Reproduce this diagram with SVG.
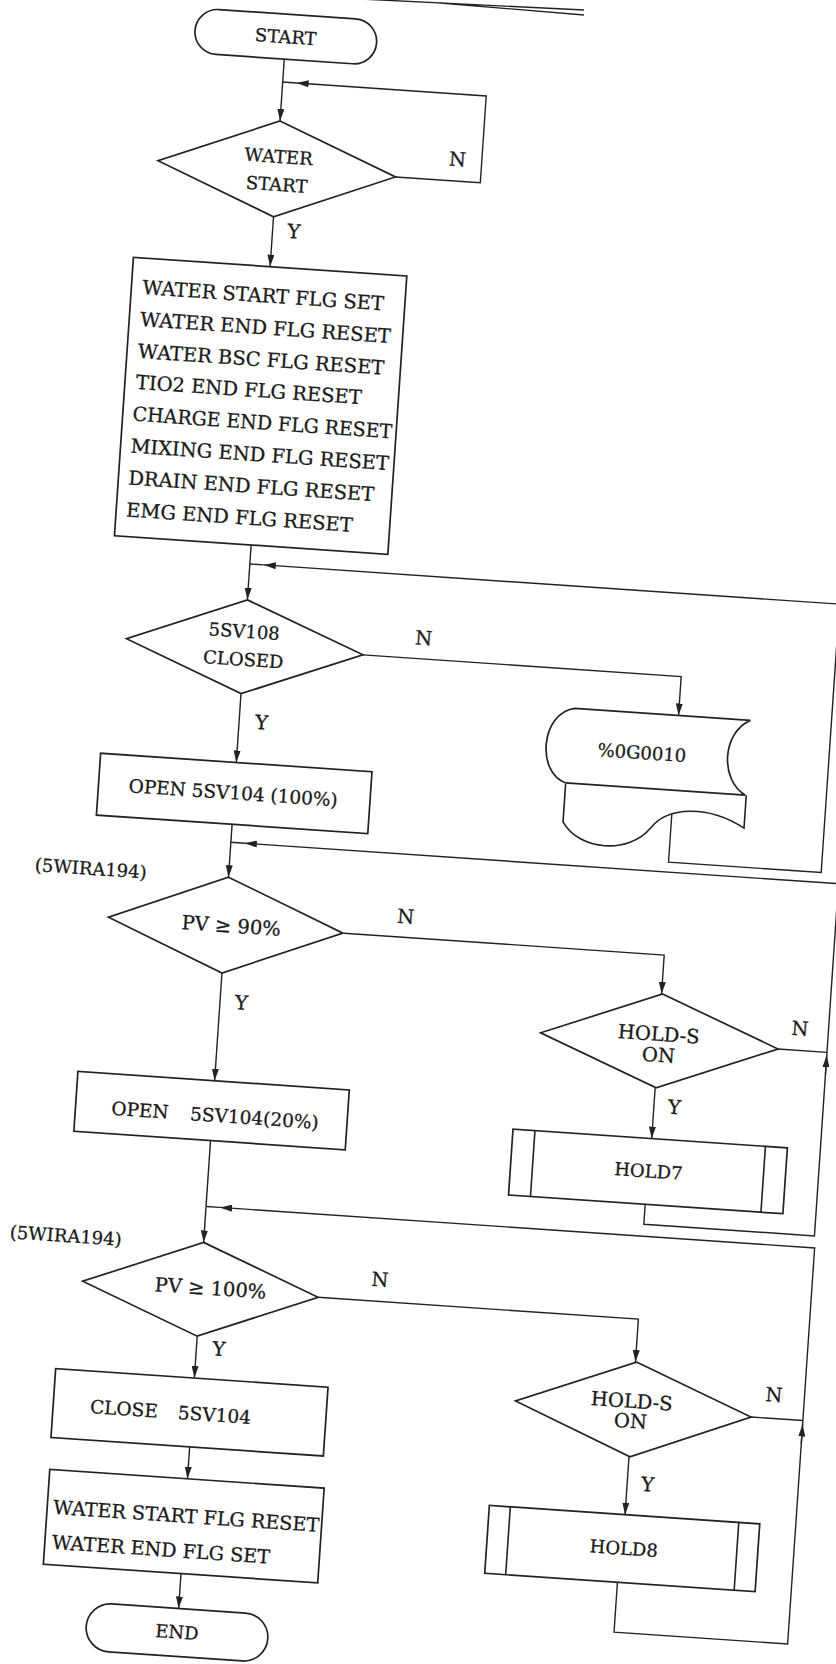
<svg xmlns="http://www.w3.org/2000/svg" width="836" height="1664" viewBox="0 0 836 1664">
<defs>
<marker id="ah" markerUnits="userSpaceOnUse" markerWidth="13" markerHeight="7" refX="12" refY="3.5" orient="auto">
<path d="M0,0 L12,3.5 L0,7 z" fill="#222"/>
</marker>
<style>
.s{fill:none;stroke:#222;stroke-width:1.6}
.n{fill:#fff;stroke:#222;stroke-width:1.7}
.c{fill:none;stroke:#222;stroke-width:1.4}
.a{fill:none;stroke:#222;stroke-width:1.4;marker-end:url(#ah)}
text{font-family:"DejaVu Serif","Liberation Serif",serif;font-size:19.5px;fill:#1a1a1a;stroke:#1a1a1a;stroke-width:0.3}
.m{text-anchor:middle}
.sm{font-size:18px}
.d{font-size:18px}
.b{font-size:18.5px}
</style>
</defs>
<rect width="836" height="1664" fill="#fff"/>
<g id="title-rule">
<path class="c" d="M360,-1 L584,10 M440,3 L584,15"/>
</g>
<g transform="rotate(3.9 418 832)">
<g id="connectors">
<path class="a" d="M232,70 V132"/>
<path class="a" d="M351,180 H436 V93 H246"/>
<path class="c" d="M246,93 H232"/>
<path class="a" d="M232,228 V278"/>
<path class="a" d="M232,557 V612"/>
<path class="a" d="M670,797 V845 H823 V576 H246"/>
<path class="c" d="M246,576 H232"/>
<path class="a" d="M351,659 H670 V698"/>
<path class="a" d="M232,706 V775"/>
<path class="a" d="M232,837 V890"/>
<path class="a" d="M670,1188 V1208 H841 V855 H246"/>
<path class="c" d="M246,855 H232"/>
<path class="a" d="M351,938 H672 V977"/>
<path class="c" d="M792,1024 H841"/>
<path class="a" d="M841,1046 V1027"/>
<path class="a" d="M672,1071 V1122"/>
<path class="a" d="M232,986 V1094"/>
<path class="a" d="M232,1154 V1256"/>
<path class="a" d="M668,1567 V1617 H842 V1220 H246"/>
<path class="c" d="M246,1220 H232"/>
<path class="a" d="M350,1303 H671 V1346"/>
<path class="c" d="M790,1393 H842"/>
<path class="a" d="M842,1416 V1397"/>
<path class="a" d="M671,1441 V1499"/>
<path class="a" d="M232,1350 V1392"/>
<path class="a" d="M232,1461 V1493"/>
<path class="a" d="M232,1588 V1623"/>
<text x="403" y="165">N</text>
<text x="247" y="248">Y</text>
<text x="402" y="645">N</text>
<text x="248" y="740">Y</text>
<text x="403" y="924">N</text>
<text x="247" y="1021">Y</text>
<text x="804" y="1009">N</text>
<text x="686" y="1096">Y</text>
<text x="402" y="1288">N</text>
<text x="248" y="1368">Y</text>
<text x="803" y="1376">N</text>
<text x="685" y="1474">Y</text>
</g>
<g id="start">
<rect class="n" x="141" y="25" width="182" height="45" rx="22.5"/>
<text class="m d" x="232" y="54">START</text>
</g>
<g id="water-start">
<polygon class="n" points="232,132 351,180 232,228 113,180"/>
<text class="m d" x="233" y="174">WATER</text>
<text class="m d" x="233" y="202">START</text>
</g>
<g id="init-flags">
<rect class="n" x="95" y="278" width="274" height="279"/>
<text x="106" y="314">WATER START FLG SET</text>
<text x="106" y="346">WATER END FLG RESET</text>
<text x="106" y="378">WATER BSC FLG RESET</text>
<text x="106" y="409">TIO2 END FLG RESET</text>
<text x="105" y="441" textLength="260" lengthAdjust="spacingAndGlyphs">CHARGE END FLG RESET</text>
<text x="105" y="473">MIXING END FLG RESET</text>
<text x="105" y="505">DRAIN END FLG RESET</text>
<text x="105" y="537">EMG END FLG RESET</text>
</g>
<g id="sv108-closed">
<polygon class="n" points="232,612 351,659 232,706 114,659"/>
<text class="m d" x="231" y="650">5SV108</text>
<text class="m d" x="232" y="678">CLOSED</text>
</g>
<g id="og0010">
<path class="n" d="M566,698 H742 C715,712 715,759 742,773 H562 C532,765 532,705 566,698 Z"/>
<path class="s" d="M562,774 V812 C580,840 630,840 650,812 C665,790 705,785 743,806 V773"/>
<text class="m d" x="636" y="744">%0G0010</text>
</g>
<g id="open-100">
<rect class="n" x="96" y="775" width="272" height="62"/>
<text class="m b" x="231" y="812">OPEN 5SV104 (100%)</text>
</g>
<g id="tag1">
<text class="sm" x="38" y="897">(5WIRA194)</text>
</g>
<g id="pv90">
<polygon class="n" points="232,890 350,938 232,986 115,938"/>
<text class="m" x="238" y="945">PV ≥ 90%</text>
</g>
<g id="hold-s-1">
<polygon class="n" points="673,977 792,1024 673,1071 554,1024"/>
<text class="m" x="672" y="1024">HOLD-S</text>
<text class="m" x="673" y="1045">ON</text>
</g>
<g id="hold7">
<rect class="n" x="533" y="1122" width="275" height="66"/>
<path class="s" d="M555,1122 V1188 M786,1122 V1188"/>
<text class="m d" x="671" y="1161">HOLD7</text>
</g>
<g id="open-20">
<rect class="n" x="95" y="1094" width="272" height="60"/>
<text class="b" x="131" y="1135">OPEN</text>
<text class="b" x="210" y="1135">5SV104(20%)</text>
</g>
<g id="tag2">
<text class="sm" x="38" y="1265">(5WIRA194)</text>
</g>
<g id="pv100">
<polygon class="n" points="232,1256 350,1303 232,1350 114,1303"/>
<text class="m" x="242" y="1308">PV ≥ 100%</text>
</g>
<g id="hold-s-2">
<polygon class="n" points="672,1346 790,1393 672,1441 554,1393"/>
<text class="m" x="670" y="1392">HOLD-S</text>
<text class="m" x="670" y="1412">ON</text>
</g>
<g id="hold8">
<rect class="n" x="535" y="1499" width="271" height="68"/>
<path class="s" d="M556,1499 V1567 M785,1499 V1567"/>
<text class="m d" x="672" y="1539">HOLD8</text>
</g>
<g id="close">
<rect class="n" x="93" y="1392" width="273" height="69"/>
<text class="b" x="130" y="1434">CLOSE</text>
<text class="b" x="218" y="1434">5SV104</text>
</g>
<g id="end-flags">
<rect class="n" x="94" y="1493" width="275" height="95"/>
<text x="100" y="1537" style="font-size:19.2px">WATER START FLG RESET</text>
<text x="101" y="1572" style="font-size:19.2px">WATER END FLG SET</text>
</g>
<g id="end">
<rect class="n" x="141" y="1623" width="182" height="48" rx="24"/>
<text class="m d" x="232" y="1653">END</text>
</g>
</g>
</svg>
